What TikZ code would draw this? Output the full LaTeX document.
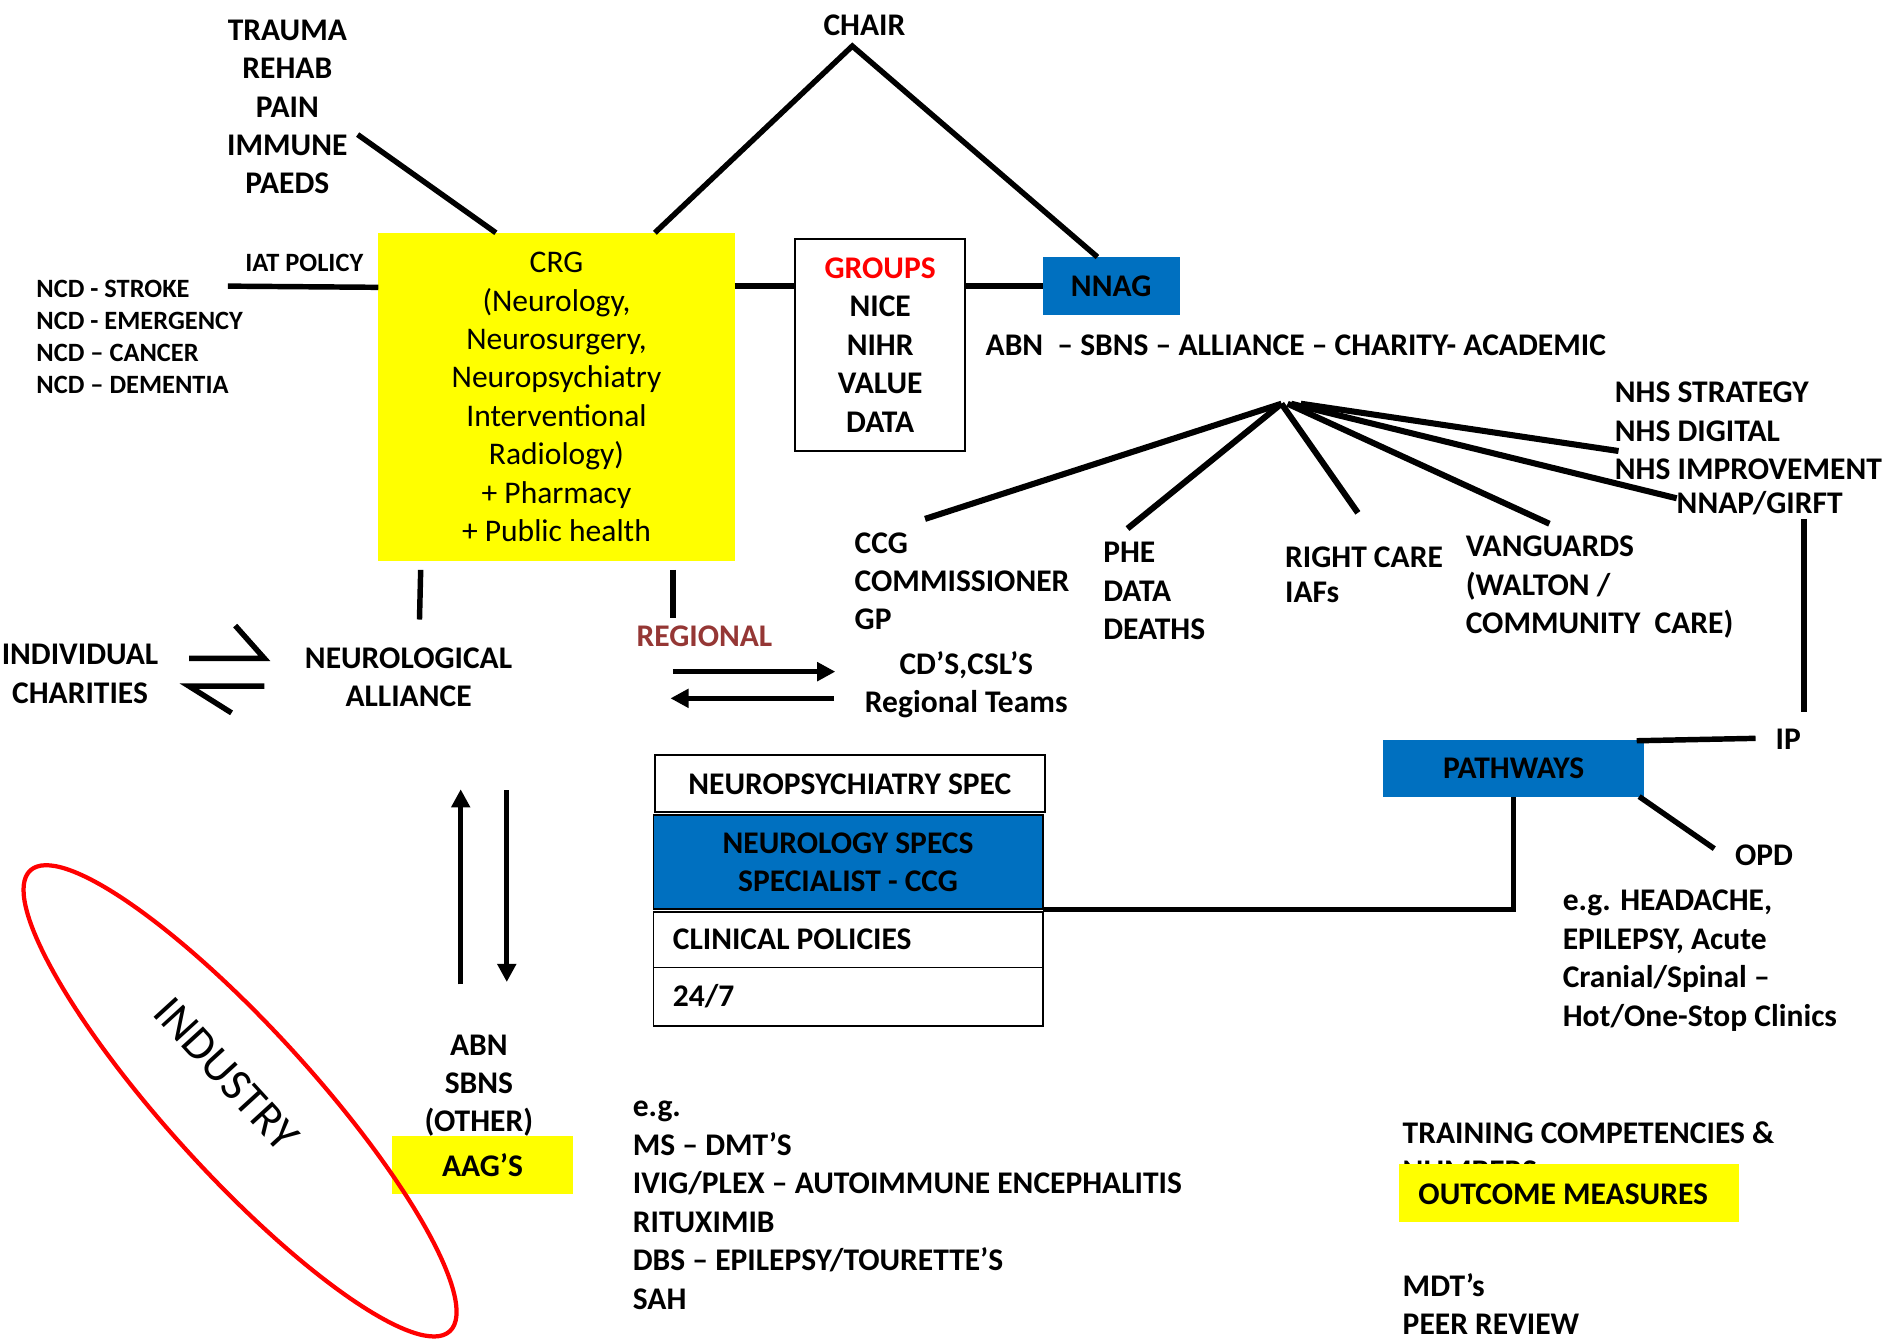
\documentclass[tikz,border=0pt]{standalone}
\usepackage{fontspec}
\setmainfont{Carlito}
\usetikzlibrary{arrows.meta,calc}
\definecolor{pblue}{HTML}{0070C0}
\definecolor{pyellow}{HTML}{FFFF00}
\definecolor{pred}{HTML}{FF0000}
\definecolor{regred}{HTML}{953735}
\newcommand{\tpb}{\rule{0pt}{21pt}}
\newcommand{\tps}{\rule{0pt}{18pt}}
\begin{document}
\begin{tikzpicture}[x=1pt,y=-1pt,
  big/.style={font=\bfseries\fontsize{26}{31.7}\selectfont, inner sep=0pt, outer sep=0pt},
  sml/.style={font=\bfseries\fontsize{21.8}{26.6}\selectfont, inner sep=0pt, outer sep=0pt},
  reg/.style={font=\fontsize{26}{31.7}\selectfont, inner sep=0pt, outer sep=0pt},
  conn/.style={line width=4.5pt},
  fan/.style={line width=5pt},
  box/.style={draw, line width=1.4pt, inner sep=0pt, outer sep=0pt},
  arr/.style={line width=4pt, -{Triangle[length=15pt,width=15pt]}},
]
\fill[white] (0,0) rectangle (1568,1105);
\useasboundingbox (0,0) rectangle (1568,1105);

% top left list
\node[big, anchor=north, align=center] (trauma) at (237,12.2) {\tpb TRAUMA\\REHAB\\PAIN\\IMMUNE\\PAEDS};
\node[big, anchor=base] (chair) at (713,29.2) {CHAIR};
\coordinate (apex) at (703,38);

% CRG
\node[fill=pyellow, minimum width=294pt, minimum height=271pt, reg, align=center] (crg) at (459,327.5) {CRG\\(Neurology,\\Neurosurgery,\\Neuropsychiatry\\Interventional\\Radiology)\\+ Pharmacy\\+ Public health};

% groups
\node[box, fill=white, minimum width=140pt, minimum height=175pt, big, align=center] (groups) at (726,284.5) {\textcolor{pred}{GROUPS}\\NICE\\NIHR\\VALUE\\DATA};
\node[fill=pblue, minimum width=113pt, minimum height=48pt, big] (nnag) at (916.5,236) {NNAG};

\coordinate (trE) at (295,111);
\draw[conn] (trE) -- ($(crg.north west)!0.33!(crg.north east)$);
\draw[conn] ($(crg.north west)!0.776!(crg.north east)$) -- (apex) -- ($(nnag.north west)!0.4!(nnag.north east)$);

% IAT / NCD
\node[sml, anchor=base] (iat) at (251,224) {IAT POLICY};
\node[sml, anchor=north west, align=left] (ncd) at (30,227) {\tps NCD - STROKE\\NCD - EMERGENCY\\NCD – CANCER\\NCD – DEMENTIA};
\coordinate (iatL) at (188,236);
\draw[conn] (iatL) -- (crg.west |- 0,237);

\draw[conn] (crg.east |- nnag) -- (groups.west |- nnag);
\draw[conn] (groups.east |- nnag) -- (nnag.west);

\node[big, anchor=base west] (abnline) at (813,293.2) {ABN\ \ – SBNS – ALLIANCE – CHARITY- ACADEMIC};

% fan
\coordinate (hub) at (1057,333);
\coordinate (fCCG) at (763,428);
\coordinate (fPHE) at (930,436);
\coordinate (fRC) at (1120,423);
\coordinate (hub2) at (1062,333);
\coordinate (fVAN) at (1278,432);
\coordinate (hub3) at (1065,333);
\coordinate (fNNAP) at (1383,411);
\coordinate (hub4) at (1073,333);
\coordinate (fNHS) at (1335,372);
\draw[fan] (hub) -- (fCCG);
\draw[fan] (hub) -- (fPHE);
\draw[fan] (hub) -- (fRC);
\draw[fan] (hub2) -- (fVAN);
\draw[fan] (hub3) -- (fNNAP);
\draw[fan] (hub4) -- (fNHS);

\node[big, anchor=north west, align=left] (nhs) at (1332,311.2) {\tpb NHS STRATEGY\\NHS DIGITAL\\NHS IMPROVEMENT};
\node[big, anchor=base west] (nnap) at (1383,423.2) {NNAP/GIRFT};
\node[big, anchor=north west, align=left] (ccg) at (705,435.2) {\tpb CCG\\COMMISSIONER\\GP};
\node[big, anchor=north west, align=left] (phe) at (910,443.2) {\tpb PHE\\DATA\\DEATHS};
\node[big, anchor=north west, align=left] (rc) at (1060,447) {\tpb RIGHT CARE\\[-2.7pt]IAFs};
\node[big, anchor=north west, align=left] (van) at (1209,438.2) {\tpb VANGUARDS\\(WALTON /\\COMMUNITY\ \ CARE)};

% IP / pathways
\coordinate (nnapB) at (1488,428);
\coordinate (ipT) at (1488,587);
\draw[conn] (nnapB) -- (ipT);
\node[big, anchor=base] (ip) at (1475,618.2) {IP};
\node[fill=pblue, minimum width=215pt, minimum height=47pt, big] (path) at (1248.5,633.5) {PATHWAYS};
\coordinate (ipL) at (1448,609);
\draw[conn] ([xshift=-6pt,yshift=-1pt]path.north east) -- (ipL);
\coordinate (opdT) at (1414,700);
\draw[conn] ([xshift=-4pt]path.south east) -- (opdT);
\node[big, anchor=base] (opd) at (1455,714.2) {OPD};
\node[big, anchor=north west, align=left] (hdr) at (1289,730.2) {\tpb e.g. HEADACHE,\\EPILEPSY, Acute\\Cranial/Spinal –\\Hot/One-Stop Clinics};

% under CRG
\coordinate (v1a) at (347,470); \coordinate (v1b) at (346,511);
\coordinate (v2a) at (555,470); \coordinate (v2b) at (555,510);
\draw[conn] (v1a) -- (v1b);
\draw[conn] (v2a) -- (v2b);

% charities / alliance
\node[big, anchor=north, align=center] (indiv) at (66,527.2) {\tpb INDIVIDUAL\\CHARITIES};
\coordinate (h1a) at (156,543); \coordinate (h1b) at (218,543); \coordinate (h1c) at (194,516);
\coordinate (h2a) at (156,566); \coordinate (h2b) at (218,566); \coordinate (h2c) at (191,588);
\draw[conn] (h1a) -- (h1b) -- (h1c);
\draw[conn] (h2c) -- (h2a) -- (h2b);
\node[big, anchor=north, align=center] (alliance) at (337,530.2) {\tpb NEUROLOGICAL\\ALLIANCE};

% regional
\node[big, anchor=base, text=regred] (regional) at (581,533.2) {REGIONAL};
\coordinate (r1a) at (555,554); \coordinate (r1b) at (689,554);
\coordinate (r2a) at (688,576); \coordinate (r2b) at (553,576);
\draw[arr] (r1a) -- (r1b);
\draw[arr] (r2a) -- (r2b);
\node[big, anchor=north, align=center] (cds) at (797,535.2) {\tpb CD’S,CSL’S\\Regional Teams};

% vertical arrows
\coordinate (u1a) at (380,812); \coordinate (u1b) at (380,651);
\coordinate (d1a) at (418,652); \coordinate (d1b) at (418,810);
\draw[arr] (u1a) -- (u1b);
\draw[arr] (d1a) -- (d1b);

% spec table
\node[box, minimum width=322pt, minimum height=47pt, big] (npsy) at (701,646.5) {NEUROPSYCHIATRY SPEC};
\node[box, fill=pblue, minimum width=321pt, minimum height=78pt, big, align=center] (neuro) at (699.5,711) {NEUROLOGY SPECS\\SPECIALIST - CCG};
\node[box, minimum width=321pt, minimum height=46pt] (clin) at (699.5,775) {};
\node[big, anchor=base west] (clint) at (555,783.2) {CLINICAL POLICIES};
\node[box, minimum width=321pt, minimum height=48pt] (h247) at (699.5,822) {};
\node[big, anchor=base west] (h247t) at (555,830.2) {24/7};
\draw[conn] (neuro.south east) -| (path.south);

% ABN / AAG
\node[big, anchor=north, align=center] (abn2) at (395,849.2) {\tpb ABN\\SBNS\\(OTHER)};
\node[fill=pyellow, minimum width=150pt, minimum height=48pt, big] (aag) at (398,961) {AAG’S};

% industry
\draw[pred, line width=3.5pt, rotate around={-47.7:(198,908)}] (198,908) ellipse [x radius=257pt, y radius=60pt];
\node[font=\fontsize{38}{46}\selectfont, rotate=-47.6, inner sep=0pt] (industry) at (187,886) {INDUSTRY};

% e.g. list
\node[big, anchor=north west, align=left] (eglist) at (522,900.2) {\tpb e.g.\\MS – DMT’S\\IVIG/PLEX – AUTOIMMUNE ENCEPHALITIS\\RITUXIMIB\\DBS – EPILEPSY/TOURETTE’S\\SAH};

% training
\node[big, anchor=base west] (train) at (1157,943.2) {TRAINING COMPETENCIES \&};
\node[big, anchor=base west] (numbers) at (1157,974.9) {NUMBERS};
\node[fill=pyellow, minimum width=280pt, minimum height=48pt, anchor=north west, inner sep=0pt] (outcome) at (1154,960) {};
\node[big, anchor=base west] (outt) at (1170,993.2) {OUTCOME MEASURES};
\node[big, anchor=north west, align=left] (mdt) at (1157,1048.2) {\tpb MDT’s\\PEER REVIEW};
\end{tikzpicture}
\end{document}
